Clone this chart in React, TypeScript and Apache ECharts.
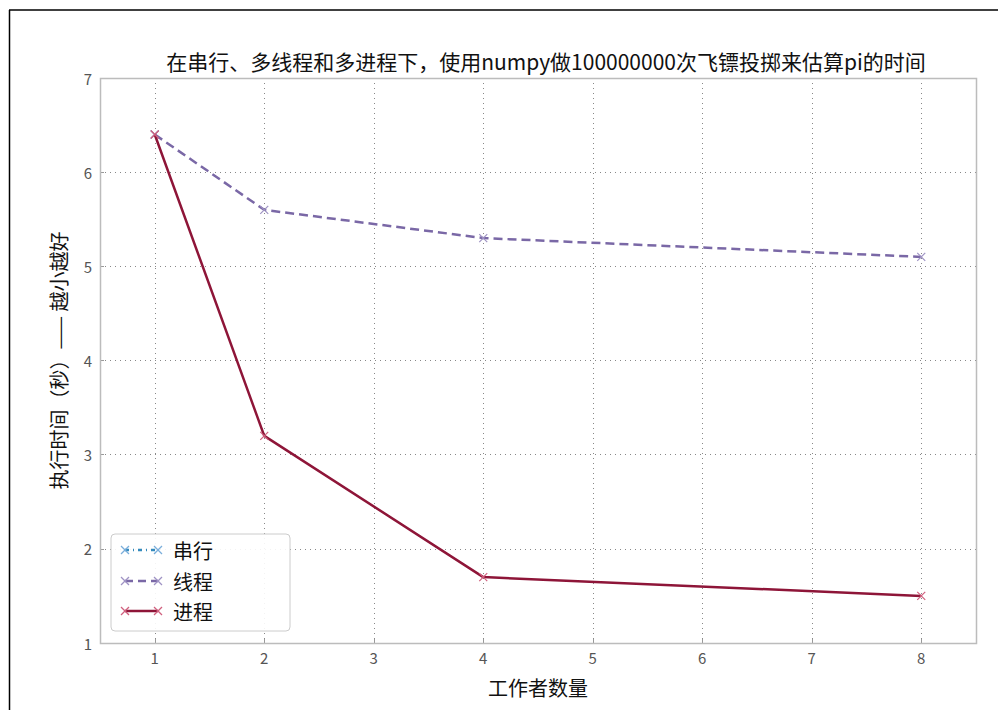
import React, { useEffect, useRef } from "react";
import * as echarts from "echarts";

const workers = [1, 2, 4, 8];
const serialWorkers = [1];
const serialTimes = [6.4];
const threadTimes = [6.4, 5.6, 5.3, 5.1];
const processTimes = [6.4, 3.2, 1.7, 1.5];
const xTicks = [1, 2, 3, 4, 5, 6, 7, 8];
const legendNames = ["串行", "线程", "进程"];

const titleText = "在串行、多线程和多进程下，使用numpy做100000000次飞镖投掷来估算pi的时间";
const FONT = "'Noto Sans CJK SC', 'Noto Sans', sans-serif";
const XMARK = "path://M0,0L10,10M0,10L10,0";

const COLORS = {
  serial: "#348ABD",
  thread: "#7A68A6",
  process: "#8E1538",
};
const MARK_COLORS = {
  serial: "#7aaedb",
  thread: "#9f93c4",
  process: "#d0607e",
};

function cross(cx: number, cy: number, color: string, z: number) {
  return [
    { type: "line", z, shape: { x1: cx - 4, y1: cy - 4, x2: cx + 4, y2: cy + 4 }, style: { stroke: color, lineWidth: 1.2 } },
    { type: "line", z, shape: { x1: cx - 4, y1: cy + 4, x2: cx + 4, y2: cy - 4 }, style: { stroke: color, lineWidth: 1.2 } },
  ];
}

export default function App() {
  const ref = useRef<HTMLDivElement>(null);
  useEffect(() => {
    if (!ref.current) return;
    const chart = echarts.init(ref.current, null, { renderer: "svg" });
    const keys = ["serial", "thread", "process"] as const;
    const legendRows = [550, 581, 611];
    const legendLineStyles: any[] = [[4, 4, 1, 4], [8, 5], null];
    const legendGraphics: any[] = [
      {
        type: "rect",
        shape: { x: 111, y: 534, width: 179, height: 97, r: 4 },
        style: { fill: "rgba(255,255,255,0.9)", stroke: "#cccccc", lineWidth: 1 },
        z: 100,
      },
    ];
    keys.forEach((k, i) => {
      const y = legendRows[i];
      legendGraphics.push({
        type: "line",
        shape: { x1: 125, y1: y, x2: 158, y2: y },
        style: { stroke: COLORS[k], lineWidth: 2.5, lineDash: legendLineStyles[i] },
        z: 101,
      });
      legendGraphics.push(...cross(125, y, MARK_COLORS[k], 102));
      legendGraphics.push(...cross(158, y, MARK_COLORS[k], 102));
      legendGraphics.push({
        type: "text",
        x: 173,
        y: y,
        style: { text: legendNames[i], font: `20px ${FONT}`, fill: "#111", verticalAlign: "middle" },
        z: 101,
      });
    });

    const mkSeries = (name: string, xs: number[], ys: number[], k: "serial" | "thread" | "process", lineType: any, z: number) => ({
      name,
      type: "line",
      data: xs.map((x, i) => [x, ys[i]]),
      symbol: XMARK,
      symbolSize: 8,
      showSymbol: true,
      z,
      lineStyle: { color: COLORS[k], width: 2.5, type: lineType },
      itemStyle: { color: "transparent", borderColor: MARK_COLORS[k], borderWidth: 1.2 },
      emphasis: { disabled: true },
    });

    chart.setOption({
      animation: false,
      backgroundColor: "#ffffff",
      title: {
        text: titleText,
        left: 541,
        top: 45,
        textAlign: "center",
        textStyle: { fontFamily: FONT, fontSize: 21, fontWeight: "normal", color: "#111" },
      },
      grid: {
        left: 100,
        top: 78,
        width: 876,
        height: 565,
        show: false,
      },
      xAxis: {
        type: "value",
        min: 0.5,
        max: 8.5,
        name: "工作者数量",
        nameLocation: "middle",
        nameGap: 34,
        nameTextStyle: { fontFamily: FONT, fontSize: 20, color: "#111" },
        axisLine: { show: false },
        axisTick: { show: true, inside: true, length: 4, customValues: xTicks, lineStyle: { color: "#999" } },
        axisLabel: { customValues: xTicks, color: "#555", fontSize: 15, fontFamily: FONT, margin: 7 },
        splitLine: { show: true, lineStyle: { color: "#888", type: [1, 4], width: 1 } },
      },
      yAxis: {
        type: "value",
        min: 1,
        max: 7,
        interval: 1,
        name: "执行时间（秒）—— 越小越好",
        nameLocation: "middle",
        nameGap: 32,
        nameTextStyle: { fontFamily: FONT, fontSize: 20, color: "#111" },
        axisLine: { show: false },
        axisTick: { show: true, inside: true, length: 4, lineStyle: { color: "#999" } },
        axisLabel: { color: "#555", fontSize: 15, fontFamily: FONT, margin: 8 },
        splitLine: { show: true, lineStyle: { color: "#888", type: [1, 4], width: 1 } },
      },
      series: [
        mkSeries("串行", serialWorkers, serialTimes, "serial", [4, 4, 1, 4], 2),
        mkSeries("线程", workers, threadTimes, "thread", [9, 5], 3),
        mkSeries("进程", workers, processTimes, "process", "solid", 4),
      ],
      graphic: [
        { type: "rect", shape: { x: 100.5, y: 78.5, width: 876, height: 565 }, style: { fill: null, stroke: "#bcbcbc", lineWidth: 1.5 }, z: 50, silent: true },
        { type: "line", shape: { x1: 9, y1: 10, x2: 998, y2: 10 }, style: { stroke: "#000", lineWidth: 1.5 }, z: 200 },
        { type: "line", shape: { x1: 9.5, y1: 10, x2: 9.5, y2: 710 }, style: { stroke: "#000", lineWidth: 1.5 }, z: 200 },
        ...legendGraphics,
      ],
    });
    return () => chart.dispose();
  }, []);
  return <div ref={ref} style={{ width: 998, height: 710, position: "absolute", left: 0, top: 0 }} />;
}
